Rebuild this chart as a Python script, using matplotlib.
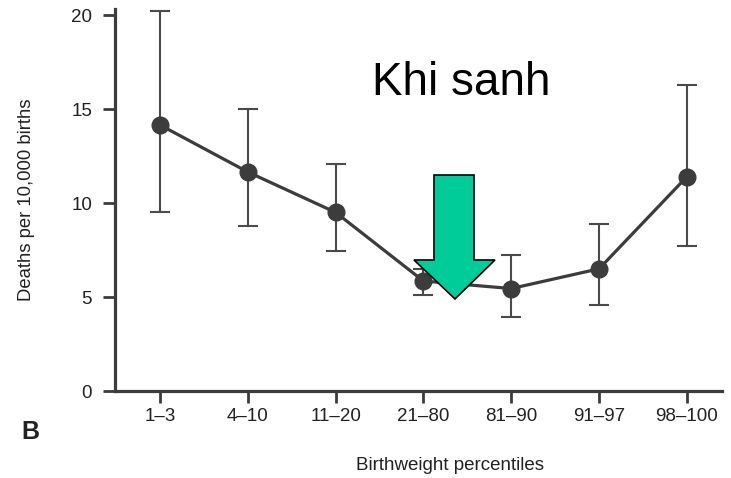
import matplotlib
matplotlib.use("Agg")
import matplotlib.pyplot as plt
from matplotlib.patches import Polygon

plt.rcParams['font.family'] = ['Liberation Sans', 'DejaVu Sans']

categories = ["1–3", "4–10", "11–20", "21–80", "81–90", "91–97", "98–100"]
deaths = [14.15, 11.65, 9.5, 5.85, 5.45, 6.5, 11.4]
upper = [20.2, 15.0, 12.1, 6.5, 7.25, 8.9, 16.3]
lower = [9.5, 8.8, 7.45, 5.1, 3.95, 4.6, 7.7]
yticks = [0, 5, 10, 15, 20]

W, H = 731, 478
fig = plt.figure(figsize=(W / 100, H / 100), dpi=100)
ax = fig.add_axes([115 / W, 1 - 391 / H, 607 / W, (391 - 9.4) / H])

x = list(range(len(categories)))
err = [[d - l for d, l in zip(deaths, lower)], [u - d for d, u in zip(deaths, upper)]]
col = '#3c3c3c'
ax.errorbar(x, deaths, yerr=err, fmt='none', ecolor='#4a4a4a', elinewidth=1.5,
            capsize=7, capthick=1.5, zorder=2)
ax.plot(x, deaths, color=col, lw=2.3, marker='o', markersize=12, zorder=3)

ax.set_xlim(-0.513, 6.4)
ax.set_ylim(0, 20.3)
ax.set_xticks(x)
ax.set_xticklabels(categories)
ax.set_yticks(yticks)
for s in ['top', 'right']:
    ax.spines[s].set_visible(False)
for s in ['left', 'bottom']:
    ax.spines[s].set_linewidth(2.3)
    ax.spines[s].set_color(col)
ax.tick_params(axis='both', colors=col, labelcolor='#222222', labelsize=13.5,
               width=2, length=8.5)
ax.tick_params(axis='y', pad=8)
ax.tick_params(axis='x', pad=4)

ax.set_ylabel("Deaths per 10,000 births", fontsize=13.3, color='#222222', labelpad=26)
fig.text(450 / W, 1 - 466 / H, "Birthweight percentiles", fontsize=13.5,
         color='#222222', ha='center', va='center')
fig.text(30 / W, 1 - 432 / H, "B", fontsize=18, fontweight='bold',
         color='#222222', ha='center', va='center')
fig.text(461 / W, 1 - 95 / H, "Khi sanh", fontsize=33, color='black',
         ha='center', va='baseline')

# green arrow annotation
arrow_px = [(434, 175), (474, 175), (474, 260), (495, 260), (455, 299),
            (414, 260), (434, 260)]
arrow = Polygon([(px / W, 1 - py / H) for px, py in arrow_px], closed=True,
                transform=fig.transFigure, facecolor='#00CC99',
                edgecolor='black', lw=1.2, zorder=10)
fig.patches.append(arrow)

fig.savefig("out.png", dpi=100)
